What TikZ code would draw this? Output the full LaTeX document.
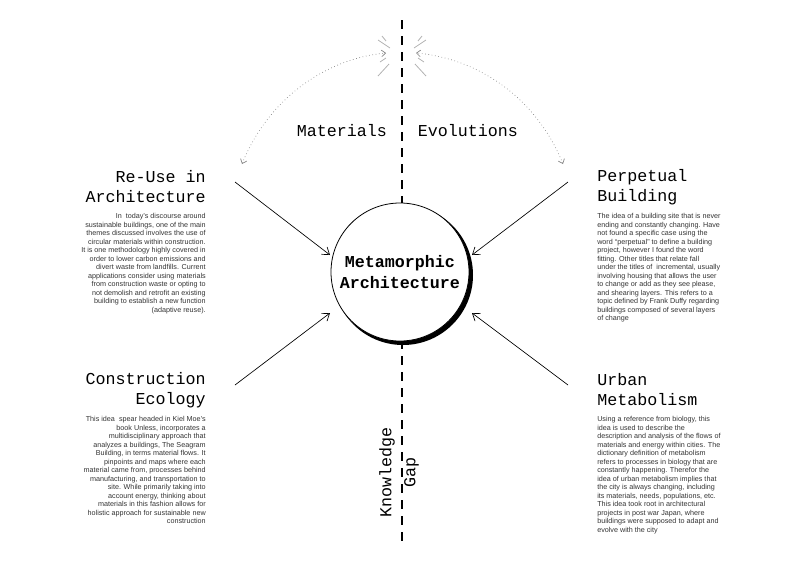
\documentclass[tikz,border=0pt]{standalone}
\usepackage{fontspec}
\setmainfont{Liberation Sans}
\newfontfamily\monofont{Liberation Mono}
\usetikzlibrary{arrows.meta}
\tikzset{
  title/.style={font=\monofont\fontsize{12.5}{15}\selectfont, inner sep=0.75pt},
  body/.style={font=\fontsize{5.4}{6.4}\selectfont, inner sep=0.75pt, text=black!80},
  link/.style={-{Straight Barb[length=5pt,width=7pt]}, line width=0.5pt},
  swing/.style={{Straight Barb[length=3pt,width=5pt]}-{Straight Barb[length=3pt,width=5pt]}, dotted, gray, line width=0.5pt},
  spark/.style={gray!60, line width=0.6pt}
}
\begin{document}
\begin{tikzpicture}[x=0.75pt,y=0.75pt,yscale=-1,xscale=1]
  \useasboundingbox (0,0) rectangle (804,569);

  %Gap line
  \draw [line width=1.8pt, dash pattern=on 7pt off 5pt] (402,20) -- (402,545);

  %Shape: Circle
  \fill (403,275) circle [radius=70];
  \draw [fill=white, line width=0.6pt] (400,272) circle [radius=69];
  \node (core) at (400,272) [align=center, font=\monofont\bfseries\fontsize{12.5}{16}\selectfont] {Metamorphic\\Architecture};
  \coordinate (nw) at (330,255);
  \coordinate (sw) at (330,313);
  \coordinate (ne) at (472,255);
  \coordinate (se) at (472,313);

  % Text Node
  \node (reuse) at (207,187) [title, anchor=east, align=right] {Re-Use in\\Architecture};
  \node (reusetxt) at (207,212) [body, anchor=north east, align=right] {In\ \ today's discourse around\\sustainable buildings, one of the main\\themes discussed involves the use of\\circular materials within construction.\\It is one methodology highly covered in\\order to lower carbon emissions and\\divert waste from landfills. Current\\applications consider using materials\\from construction waste or opting to\\not demolish and retrofit an existing\\building to establish a new function\\(adaptive reuse).};
  % Text Node
  \node (perp) at (596,187) [title, anchor=west, align=left] {Perpetual\\Building};
  \node (perptxt) at (596,212) [body, anchor=north west, align=left] {The idea of a building site that is never\\ending and constantly changing. Have\\not found a specific case using the\\word ``perpetual'' to define a building\\project, however I found the word\\fitting. Other titles that relate fall\\under the titles of\ \ incremental, usually\\involving housing that allows the user\\to change or add as they see please,\\and shearing layers. This refers to a\\topic defined by Frank Duffy regarding\\buildings composed of several layers\\of change};
  % Text Node
  \node (eco) at (207,390) [title, anchor=east, align=right] {Construction\\Ecology};
  \node (ecotxt) at (207,415) [body, anchor=north east, align=right] {This idea\ \ spear headed in Kiel Moe's\\book Unless, incorporates a\\multidisciplinary approach that\\analyzes a buildings, The Seagram\\Building, in terms material flows. It\\pinpoints and maps where each\\material came from, processes behind\\manufacturing, and transportation to\\site. While primarily taking into\\account energy, thinking about\\materials in this fashion allows for\\holistic approach for sustainable new\\construction};
  % Text Node
  \node (urban) at (596,390) [title, anchor=west, align=left] {Urban\\Metabolism};
  \node (urbantxt) at (596,415) [body, anchor=north west, align=left] {Using a reference from biology, this\\idea is used to describe the\\description and analysis of the flows of\\materials and energy within cities. The\\dictionary definition of metabolism\\refers to processes in biology that are\\constantly happening. Therefor the\\idea of urban metabolism implies that\\the city is always changing, including\\its materials, needs, populations, etc.\\This idea took root in architectural\\projects in post war Japan, where\\buildings were supposed to adapt and\\evolve with the city};

  %Straight Lines
  \coordinate (a1) at (235,182);
  \coordinate (a2) at (568,182);
  \coordinate (a3) at (235,385);
  \coordinate (a4) at (568,385);
  \draw [link] (a1) -- (nw);
  \draw [link] (a2) -- (ne);
  \draw [link] (a3) -- (sw);
  \draw [link] (a4) -- (se);

  % Text Node
  \node (mat) at (342,131) [font=\monofont\fontsize{12.5}{15}\selectfont] {Materials};
  \node (evo) at (468,131) [font=\monofont\fontsize{12.5}{15}\selectfont] {Evolutions};
  \node (gap) at (399,472) [rotate=90, align=center, font=\monofont\fontsize{12.5}{18}\selectfont] {Knowledge\\Gap};

  %Shape: Boxed Bezier Curve
  \coordinate (l0) at (242,164);
  \coordinate (l1) at (386,53);
  \coordinate (r0) at (563,164);
  \coordinate (r1) at (416,53);
  \draw [swing] (l0) .. controls (270,95) and (330,58) .. (l1);
  \draw [swing] (r0) .. controls (535,95) and (475,58) .. (r1);

  %Sparks
  \draw [spark] (378,40) -- (390,48);
  \draw [spark] (382,36) -- (386,41);
  \draw [spark] (380,62) -- (386,58);
  \draw [spark] (378,76) -- (389,64);
  \draw [spark] (426,40) -- (414,48);
  \draw [spark] (422,36) -- (418,41);
  \draw [spark] (424,62) -- (418,58);
  \draw [spark] (426,76) -- (415,64);
\end{tikzpicture}
\end{document}
